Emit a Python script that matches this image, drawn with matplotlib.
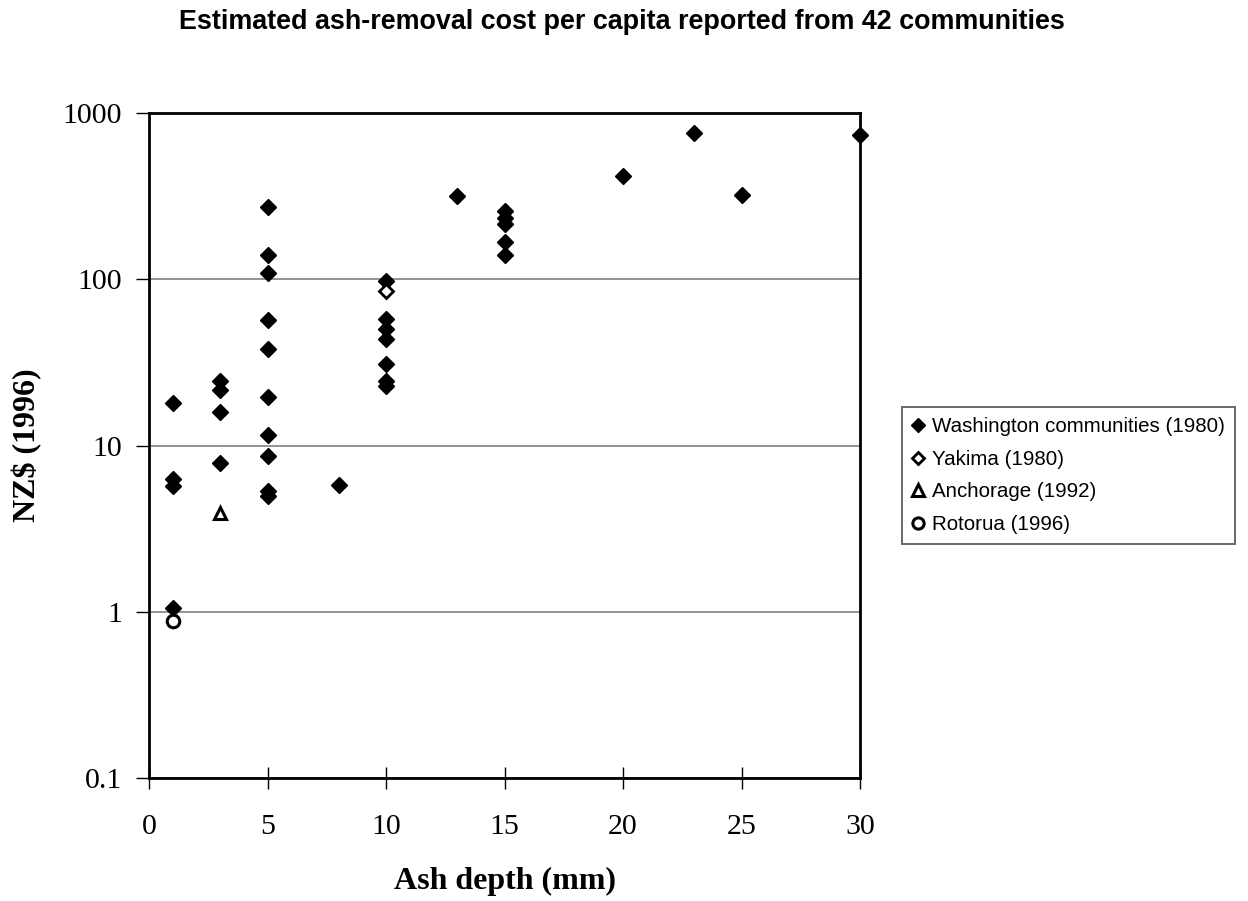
import numpy as np
import matplotlib.pyplot as plt
from matplotlib.ticker import FixedLocator, NullLocator

# ash depth (mm) and cost per capita NZ$ (1996)
wash_depth = [1, 1, 1, 1,
              3, 3, 3, 3,
              5, 5, 5, 5, 5, 5, 5, 5, 5, 5,
              8,
              10, 10, 10, 10, 10, 10, 10,
              13,
              15, 15, 15, 15, 15,
              20, 23, 25, 30]
wash_cost = [18, 6.3, 5.7, 1.06,
             24.3, 21.7, 16, 7.9,
             271, 140, 109, 57, 38, 19.5, 11.5, 8.7, 5.35, 5.0,
             5.8,
             98, 58, 50, 44, 31, 24.5, 22.7,
             316,
             257, 233, 214, 167, 140,
             417, 761, 321, 737]
yakima_depth = [10]
yakima_cost = [85]
anch_depth = [3]
anch_cost = [3.95]
roto_depth = [1]
roto_cost = [0.88]

xticks = [0, 5, 10, 15, 20, 25, 30]
yticks = [0.1, 1, 10, 100, 1000]
ytick_labels = ['0.1', '1', '10', '100', '1000']

fig = plt.figure(figsize=(12.48, 9.01), dpi=100)
ax = fig.add_axes([149/1248, 1 - 778/901, 711/1248, 665/901])

ax.plot(wash_depth, wash_cost, 'D', color='black', markersize=8, ls='none',
        label='Washington communities (1980)', zorder=3, clip_on=False)
ax.plot(yakima_depth, yakima_cost, 'D', mfc='white', mec='black', mew=2, markersize=7,
        ls='none', label='Yakima (1980)', zorder=3)
ax.plot(anch_depth, anch_cost, '^', mfc='white', mec='black', mew=2.2, markersize=9,
        ls='none', label='Anchorage (1992)', zorder=3)
ax.plot(roto_depth, roto_cost, 'o', mfc='white', mec='black', mew=2.2, markersize=9,
        ls='none', label='Rotorua (1996)', zorder=3)

ax.set_yscale('log')
ax.set_xlim(0, 30)
ax.set_ylim(0.1, 1000)
ax.xaxis.set_major_locator(FixedLocator(xticks))
ax.yaxis.set_major_locator(FixedLocator(yticks))
ax.yaxis.set_minor_locator(NullLocator())
ax.set_yticklabels(ytick_labels)
ax.grid(axis='y', color='#808080', lw=1.2)
ax.set_axisbelow(True)

for s in ax.spines.values():
    s.set_linewidth(2)
ax.tick_params(axis='x', direction='inout', length=16, width=1, pad=18)
ax.tick_params(axis='y', direction='out', length=9.5, width=1, pad=10)
for lab in ax.get_xticklabels() + ax.get_yticklabels():
    lab.set_fontfamily('Liberation Serif')
    lab.set_fontsize(21.5)

ax.set_xlabel('Ash depth (mm)', family='Liberation Serif', fontsize=23,
              fontweight='bold')
ax.xaxis.set_label_coords(0.5, (778 - 889) / 665, transform=ax.transAxes)
ax.xaxis.label.set_va('baseline')
ax.set_ylabel('NZ$ (1996)', family='Liberation Serif', fontsize=23,
              fontweight='bold')
ax.yaxis.set_label_coords((27 - 149) / 711, 0.5, transform=ax.transAxes)
ax.yaxis.label.set_va('center')

fig.text(622/1248, 1 - 22/901, 'Estimated ash-removal cost per capita reported from 42 communities',
         ha='center', va='center', family='Liberation Sans', fontweight='bold', fontsize=19.4)

leg = ax.legend(loc='upper left', bbox_to_anchor=(902/1248, 1 - 407/901),
                bbox_transform=fig.transFigure, frameon=True,
                fancybox=False, prop={'family': 'Liberation Sans', 'size': 14.8},
                handlelength=0.6, handletextpad=0.35, borderpad=0.5, labelspacing=0.66,
                markerscale=0.9, borderaxespad=0)
leg.get_frame().set_edgecolor('#444444')
leg.get_frame().set_linewidth(1.4)

fig.savefig('out.png', dpi=100)
